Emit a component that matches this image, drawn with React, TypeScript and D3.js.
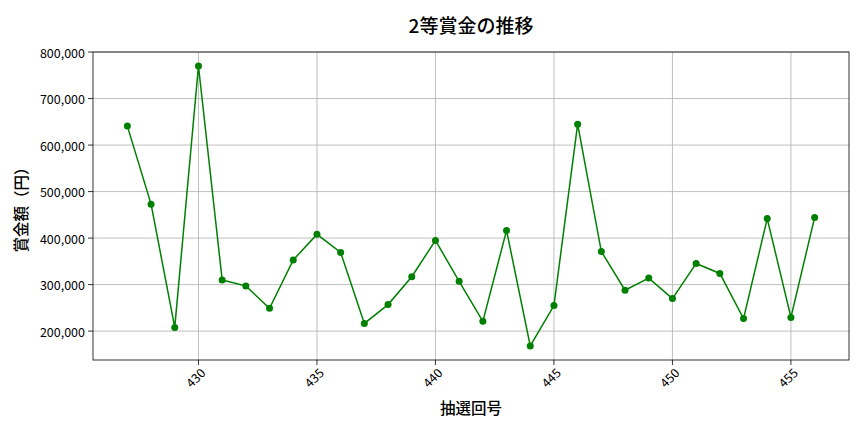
import * as d3 from 'd3';

const draws = [427, 428, 429, 430, 431, 432, 433, 434, 435, 436, 437, 438, 439, 440, 441, 442, 443, 444, 445, 446, 447, 448, 449, 450, 451, 452, 453, 454, 455, 456];
const prizes = [
  640800, 473000, 208000, 770000, 310000, 297000, 249000, 353000, 408000, 369000,
  216500, 257000, 317000, 395000, 307000, 221000, 416500, 168000, 255000, 645000,
  371000, 288000, 314000, 270000, 345500, 324000, 227000, 442000, 229500, 444500,
];
const xTicks = [430, 435, 440, 445, 450, 455];
const yTicks = [200000, 300000, 400000, 500000, 600000, 700000, 800000];

const W = 864;
const H = 432;
const m = { top: 52, right: 15, bottom: 72, left: 93 };
const font = '"Noto Sans CJK JP", "Noto Sans", sans-serif';

export default function App() {
  const xMin = d3.min(draws)!;
  const xMax = d3.max(draws)!;
  const xPad = (xMax - xMin) * 0.05;
  const yMin = d3.min(prizes)!;
  const yMax = d3.max(prizes)!;
  const yPad = (yMax - yMin) * 0.05;

  const x = d3.scaleLinear().domain([xMin - xPad, xMax + xPad]).range([m.left, W - m.right]);
  const y = d3.scaleLinear().domain([yMin - yPad, yMax + yPad]).range([H - m.bottom, m.top]);

  const line = d3
    .line<number>()
    .x((_, i) => x(draws[i]))
    .y((d) => y(d));

  const fmt = d3.format(',');
  const bottom = H - m.bottom;

  return (
    <div style={{ position: 'absolute', left: 0, top: 0 }}>
      <svg width={W} height={H} style={{ display: 'block', background: '#fff' }} fontFamily={font}>
        {/* grid */}
        {xTicks.map((t) => (
          <line key={'gx' + t} x1={x(t)} x2={x(t)} y1={m.top} y2={bottom} stroke="#b0b0b0" strokeWidth={0.8} />
        ))}
        {yTicks.map((t) => (
          <line key={'gy' + t} x1={m.left} x2={W - m.right} y1={y(t)} y2={y(t)} stroke="#b0b0b0" strokeWidth={0.8} />
        ))}

        {/* series */}
        <path d={line(prizes)!} fill="none" stroke="#008000" strokeWidth={1.5} />
        {prizes.map((v, i) => (
          <circle key={i} cx={x(draws[i])} cy={y(v)} r={3.5} fill="#008000" />
        ))}

        {/* frame */}
        <rect x={m.left} y={m.top} width={W - m.right - m.left} height={bottom - m.top} fill="none" stroke="#000" strokeWidth={0.8} />

        {/* x ticks */}
        {xTicks.map((t) => (
          <g key={'tx' + t} transform={`translate(${x(t)},${bottom})`}>
            <line y2={5} stroke="#000" strokeWidth={0.8} />
            <text
              transform="translate(4,10) rotate(-45)"
              textAnchor="end"
              dominantBaseline="central"
              fontSize={12.5}
              fill="#000"
            >
              {t}
            </text>
          </g>
        ))}

        {/* y ticks */}
        {yTicks.map((t) => (
          <g key={'ty' + t} transform={`translate(${m.left},${y(t)})`}>
            <line x2={-5} stroke="#000" strokeWidth={0.8} />
            <text x={-8} textAnchor="end" dominantBaseline="central" fontSize={12.5} fill="#000">
              {fmt(t)}
            </text>
          </g>
        ))}

        <text x={(m.left + W - m.right) / 2} y={33} textAnchor="middle" fontSize={19} fontWeight={500} fill="#000">
          2等賞金の推移
        </text>
        <text x={(m.left + W - m.right) / 2} y={414} textAnchor="middle" fontSize={15.5} fontWeight={500} fill="#000">
          抽選回号
        </text>
        <text
          transform={`translate(27,${(m.top + bottom) / 2}) rotate(-90)`}
          textAnchor="middle"
          fontSize={15.5}
          fontWeight={500}
          fill="#000"
        >
          賞金額（円）
        </text>
      </svg>
    </div>
  );
}
